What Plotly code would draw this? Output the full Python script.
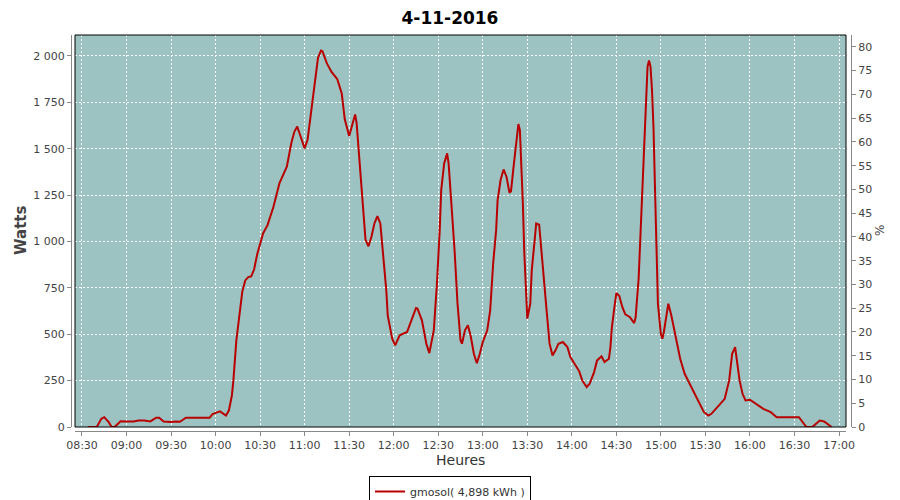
import plotly.graph_objects as go

# ---- data ----
day = "2016-11-04"
minutes_after_0830 = [
    4, 10, 13, 15, 18, 20, 22, 24, 26, 30, 35, 38, 42, 46, 50, 52, 55, 60, 63, 66,
    70, 80, 86, 88, 93, 97, 99, 101, 102, 104, 106, 108, 110, 112, 114, 116, 118, 120,
    122, 125, 129, 133, 138, 141, 143, 145, 147, 150, 152, 155, 157, 159, 161, 162, 165,
    168, 172, 175, 177, 180, 182, 184, 185, 187, 188, 190, 191, 193, 195, 197, 199, 201,
    203, 205, 206, 209, 211, 214, 219, 222, 225, 226, 229, 232, 234, 237, 239, 241, 242,
    244, 246, 247, 249, 251, 253, 255, 256, 258, 260, 262, 264, 266, 268, 270, 273, 275,
    277, 279, 280, 282, 284, 286, 288, 289, 291, 293, 294, 295, 296, 297, 298, 299, 300,
    302, 303, 305, 306, 308, 309, 311, 313, 315, 317, 319, 321, 324, 327, 329, 332, 335,
    337, 340, 342, 345, 347, 350, 352, 355, 356, 357, 359, 360, 362, 364, 366, 369, 372,
    373, 375, 376, 377, 378, 379, 380, 381, 382, 383, 384, 385, 386, 387, 388, 390, 391,
    392, 394, 395, 397, 400, 403, 406, 411, 415, 419, 422, 424, 430, 433, 436, 438, 440,
    441, 443, 445, 447, 450, 455, 459, 464, 468, 483, 488, 492, 497, 500, 505,
]
watts = [
    0, 0, 44, 53, 26, 0, 0, 15, 31, 30, 30, 35, 35, 30, 50, 50, 30, 27, 30, 28,
    50, 50, 50, 70, 84, 62, 90, 170, 251, 467, 593, 730, 790, 808, 812, 850, 930, 989,
    1043, 1088, 1187, 1313, 1403, 1529, 1590, 1620, 1570, 1502, 1550, 1726, 1870, 1990, 2029, 2025, 1960,
    1915, 1875, 1798, 1660, 1568, 1627, 1685, 1640, 1440, 1300, 1100, 1010, 974, 1025, 1097, 1136, 1097,
    917, 737, 600, 476, 440, 494, 512, 575, 641, 638, 575, 449, 398, 521, 755, 1061, 1277,
    1421, 1475, 1420, 1205, 953, 665, 467, 449, 521, 548, 485, 395, 344, 395, 458, 521, 629,
    881, 1061, 1223, 1331, 1388, 1349, 1262, 1270, 1421, 1583, 1633, 1600, 1421, 1205, 935, 737, 584,
    665, 845, 1010, 1097, 1090, 989, 809, 629, 449, 386, 413, 449, 458, 431, 377, 341, 300,
    251, 215, 233, 296, 359, 381, 350, 368, 431, 539, 665, 722, 706, 647, 607, 593, 560,
    593, 800, 989, 1205, 1457, 1654, 1834, 1942, 1975, 1942, 1816, 1618, 1295, 899, 665, 500, 476,
    512, 611, 665, 602, 485, 368, 287, 206, 143, 80, 62, 71, 125, 152, 251, 395, 431,
    377, 251, 179, 143, 147, 121, 98, 80, 53, 53, 0, 0, 35, 30, 0,
]
series_name = "gmosol( 4,898 kWh )"
title_text = "4-11-2016"


def to_time(m):
    t = 8 * 60 + 30 + m
    return f"{day} {t // 60:02d}:{t % 60:02d}:00"


times = [to_time(m) for m in minutes_after_0830]

# ---- layout geometry ----
# the page body has an 8px margin, so the figure is drawn 8px right/down;
# screen pixel positions are converted to paper fractions below
OFF = 8
W, H = 900 - OFF, 500 - OFF
ML, MR, MT, MB = 57, 36, 22, 52
PW, PH = W - ML - MR, H - MT - MB


def px_x(s):
    return (s - OFF - ML) / PW


def px_y(s):
    return (H - MB - (s - OFF)) / PH


fig = go.Figure()
fig.add_trace(go.Scatter(
    x=times, y=watts, mode="lines", name=series_name,
    line=dict(color="#B80000", width=2),
))
# empty trace so the percentage axis is drawn
fig.add_trace(go.Scatter(x=[], y=[], yaxis="y2", showlegend=False, hoverinfo="skip"))

tick_font = dict(family="DejaVu Sans", size=11, color="#444444")
fig.update_layout(
    width=W, height=H,
    margin=dict(l=ML, r=MR, t=MT, b=MB, autoexpand=False),
    paper_bgcolor="white",
    plot_bgcolor="#9DC2C2",
    separators=", ",
    title=dict(text=f"<b>{title_text}</b>", x=(450 - OFF) / W, xref="container", xanchor="center",
               y=1 - (18 - OFF) / H, yref="container", yanchor="middle",
               font=dict(family="DejaVu Sans", size=17, color="black")),
    xaxis=dict(
        type="date", domain=[px_x(75), px_x(846)],
        anchor="free", position=px_y(431),
        range=[f"{day} 08:25:18", f"{day} 17:04:42"],
        tick0=f"{day} 08:30", dtick=30 * 60 * 1000, tickformat="%H:%M",
        showline=True, linecolor="#888888", linewidth=1,
        ticks="outside", ticklen=4, tickcolor="#888888",
        showgrid=True, gridcolor="white", gridwidth=1, griddash="2px,2px",
        tickfont=tick_font, zeroline=False, automargin=False,
    ),
    yaxis=dict(
        domain=[px_y(427), px_y(35)],
        anchor="free", position=px_x(71),
        range=[0, 2113], dtick=250, tick0=0, tickformat=",d",
        showline=True, linecolor="#888888", linewidth=1,
        ticks="outside", ticklen=4, tickcolor="#888888",
        showgrid=True, gridcolor="white", gridwidth=1, griddash="2px,2px",
        tickfont=tick_font, zeroline=False, automargin=False,
    ),
    yaxis2=dict(
        overlaying="y", side="right",
        anchor="free", position=px_x(851),
        range=[0, 82.5], dtick=5, tick0=0,
        showline=True, linecolor="#888888", linewidth=1,
        ticks="outside", ticklen=4, tickcolor="#888888",
        showgrid=False, zeroline=False, tickfont=tick_font, automargin=False,
    ),
    showlegend=True,
    legend=dict(
        orientation="h", x=px_x(450), xanchor="center", y=px_y(476), yanchor="top",
        bgcolor="white", bordercolor="black", borderwidth=1,
        font=dict(family="DejaVu Sans", size=11, color="#333333"),
        itemwidth=30,
    ),
    shapes=[dict(type="rect", xref="x domain", yref="y domain", x0=0, x1=1, y0=0, y1=1,
                 line=dict(color="black", width=1), layer="above")],
    annotations=[
        dict(text="<b>Watts</b>", xref="paper", yref="paper", x=px_x(21), y=px_y(231),
             textangle=-90, showarrow=False, xanchor="center", yanchor="middle",
             font=dict(family="DejaVu Sans", size=15, color="#444444")),
        dict(text="%", xref="paper", yref="paper", x=px_x(880), y=px_y(231),
             textangle=-90, showarrow=False, xanchor="center", yanchor="middle",
             font=dict(family="DejaVu Sans", size=12, color="#444444")),
        dict(text="Heures", xref="paper", yref="paper", x=px_x(460), y=px_y(460),
             showarrow=False, xanchor="center", yanchor="middle",
             font=dict(family="DejaVu Sans", size=14, color="#333333")),
    ],
)

fig.write_html("out.html")
